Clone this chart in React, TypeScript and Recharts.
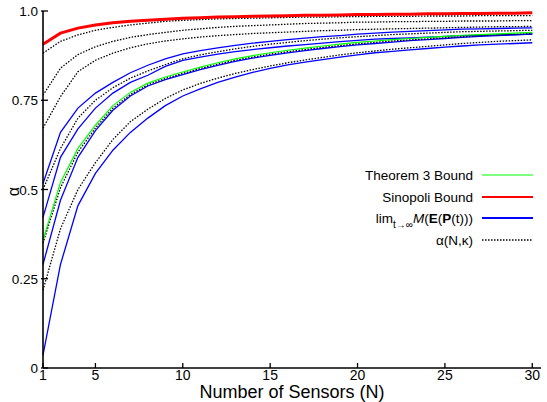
import * as React from 'react';
import { Label, Line, LineChart, XAxis, YAxis } from 'recharts';

// number of sensors, N = 2..30 (the left edge is labelled "1" in the original)
const sensors = [2, 3, 4, 5, 6, 7, 8, 9, 10, 11, 12, 13, 14, 15, 16, 17, 18, 19, 20, 21, 22, 23, 24, 25, 26, 27, 28, 29, 30];

const sinopoli = [0.907, 0.938, 0.952, 0.961, 0.967, 0.971, 0.974, 0.977, 0.98, 0.981, 0.983, 0.984, 0.985, 0.986, 0.987, 0.988, 0.988, 0.989, 0.99, 0.99, 0.991, 0.991, 0.992, 0.992, 0.993, 0.993, 0.994, 0.994, 0.995];

const theorem3 = [0.358, 0.52, 0.615, 0.68, 0.735, 0.772, 0.798, 0.815, 0.829, 0.843, 0.855, 0.866, 0.875, 0.883, 0.89, 0.896, 0.902, 0.907, 0.912, 0.916, 0.92, 0.923, 0.926, 0.929, 0.932, 0.934, 0.936, 0.938, 0.94];

// lim M(E(P(t))) curves
const limE = [0.517, 0.66, 0.728, 0.77, 0.8, 0.827, 0.848, 0.866, 0.88, 0.889, 0.897, 0.904, 0.91, 0.915, 0.92, 0.924, 0.928, 0.931, 0.935, 0.938, 0.941, 0.943, 0.945, 0.947, 0.949, 0.95, 0.951, 0.952, 0.953];
const limF = [0.422, 0.59, 0.67, 0.728, 0.77, 0.8, 0.82, 0.845, 0.862, 0.871, 0.879, 0.886, 0.892, 0.897, 0.902, 0.906, 0.91, 0.914, 0.918, 0.921, 0.923, 0.925, 0.927, 0.929, 0.931, 0.932, 0.933, 0.934, 0.935];
const limG = [0.29, 0.47, 0.59, 0.665, 0.722, 0.762, 0.79, 0.808, 0.822, 0.836, 0.848, 0.859, 0.868, 0.876, 0.883, 0.889, 0.895, 0.9, 0.905, 0.909, 0.913, 0.917, 0.92, 0.923, 0.926, 0.929, 0.931, 0.933, 0.935];
const limH = [0.036, 0.29, 0.455, 0.545, 0.61, 0.66, 0.7, 0.735, 0.762, 0.782, 0.8, 0.815, 0.828, 0.839, 0.849, 0.857, 0.864, 0.871, 0.877, 0.883, 0.887, 0.891, 0.895, 0.899, 0.902, 0.905, 0.907, 0.909, 0.911];

// alpha(N, kappa) curves
const alphaB = [0.882, 0.915, 0.933, 0.946, 0.954, 0.961, 0.966, 0.971, 0.974, 0.976, 0.978, 0.979, 0.98, 0.981, 0.982, 0.983, 0.983, 0.984, 0.984, 0.985, 0.985, 0.985, 0.986, 0.986, 0.986, 0.987, 0.987, 0.987, 0.987];
const alphaC = [0.764, 0.84, 0.878, 0.9, 0.915, 0.926, 0.934, 0.94, 0.946, 0.95, 0.954, 0.957, 0.959, 0.961, 0.963, 0.965, 0.966, 0.967, 0.969, 0.969, 0.97, 0.97, 0.971, 0.971, 0.972, 0.972, 0.972, 0.973, 0.973];
const alphaD = [0.672, 0.76, 0.83, 0.862, 0.882, 0.897, 0.908, 0.916, 0.922, 0.927, 0.931, 0.934, 0.937, 0.939, 0.941, 0.943, 0.945, 0.946, 0.948, 0.949, 0.95, 0.951, 0.952, 0.953, 0.954, 0.955, 0.956, 0.956, 0.957];
const alphaE = [0.5, 0.615, 0.7, 0.75, 0.785, 0.812, 0.832, 0.85, 0.866, 0.877, 0.886, 0.894, 0.901, 0.907, 0.912, 0.917, 0.921, 0.925, 0.928, 0.931, 0.934, 0.936, 0.938, 0.94, 0.942, 0.943, 0.944, 0.945, 0.946];
const alphaG = [0.35, 0.505, 0.605, 0.672, 0.728, 0.766, 0.793, 0.811, 0.825, 0.839, 0.851, 0.862, 0.871, 0.879, 0.886, 0.892, 0.898, 0.903, 0.908, 0.912, 0.916, 0.919, 0.922, 0.925, 0.928, 0.931, 0.933, 0.935, 0.937];
const alphaH = [0.218, 0.39, 0.5, 0.575, 0.64, 0.69, 0.725, 0.755, 0.779, 0.797, 0.812, 0.825, 0.836, 0.846, 0.855, 0.863, 0.87, 0.877, 0.883, 0.888, 0.893, 0.897, 0.901, 0.905, 0.909, 0.912, 0.915, 0.917, 0.919];

const xTicks = [2, 5, 10, 15, 20, 25, 30];
const xTickLabels = ['1', '5', '10', '15', '20', '25', '30'];
const yTicks = [0, 0.25, 0.5, 0.75, 1];
const yTickLabels = ['0', '0.25', '0.5', '0.75', '1.0'];

const legendLabels = ['Theorem 3 Bound', 'Sinopoli Bound', 'lim', 'α(N,κ)'];

const FONT = '"Liberation Sans", Arial, Helvetica, sans-serif';

const limKeys = ['limE', 'limF', 'limG', 'limH'];
const alphaKeys = ['alphaB', 'alphaC', 'alphaD', 'alphaE', 'alphaG', 'alphaH'];

const data = sensors.map((n, i) => ({
  n,
  sinopoli: sinopoli[i],
  theorem3: theorem3[i],
  limE: limE[i],
  limF: limF[i],
  limG: limG[i],
  limH: limH[i],
  alphaB: alphaB[i],
  alphaC: alphaC[i],
  alphaD: alphaD[i],
  alphaE: alphaE[i],
  alphaG: alphaG[i],
  alphaH: alphaH[i],
}));

const XTick = ({ x, y, payload }: any) => {
  const idx = xTicks.indexOf(payload.value);
  return (
    <g>
      <line x1={x} y1={y} x2={x} y2={y - 5} stroke="#000" strokeWidth={1.3} />
      <text x={x} y={y + 12} textAnchor="middle" fontSize={14} fontFamily={FONT} fill="#000">
        {idx >= 0 ? xTickLabels[idx] : payload.value}
      </text>
    </g>
  );
};

const YTick = ({ x, y, payload }: any) => {
  const idx = yTicks.indexOf(payload.value);
  return (
    <g>
      <line x1={x - 2} y1={y} x2={x + 5} y2={y} stroke="#000" strokeWidth={1.3} />
      <text x={x - 5} y={y + 5} textAnchor="end" fontSize={13.5} fontFamily={FONT} fill="#000">
        {idx >= 0 ? yTickLabels[idx] : payload.value}
      </text>
    </g>
  );
};

function LegendBox() {
  const rowY = [175, 197, 218, 240];
  const textEnd = 473;
  return (
    <svg
      width={547}
      height={402}
      style={{ position: 'absolute', left: 0, top: 0, pointerEvents: 'none' }}
      fontFamily={FONT}
    >
      <text x={textEnd} y={rowY[0] + 5} textAnchor="end" fontSize={13.5}>{legendLabels[0]}</text>
      <line x1={482} x2={533} y1={rowY[0]} y2={rowY[0]} stroke="#00ff00" strokeWidth={1.2} />
      <text x={textEnd} y={rowY[1] + 5} textAnchor="end" fontSize={13.5}>{legendLabels[1]}</text>
      <line x1={482} x2={533} y1={rowY[1]} y2={rowY[1]} stroke="#ff0000" strokeWidth={2.2} />
      <text x={textEnd} y={rowY[2] + 5} textAnchor="end" fontSize={13.5}>
        {legendLabels[2]}
        <tspan dy={5} fontSize={10}>t→∞</tspan>
        <tspan dy={-5} fontStyle="italic">M</tspan>
        <tspan>(</tspan>
        <tspan fontWeight="bold">E</tspan>
        <tspan>(</tspan>
        <tspan fontWeight="bold">P</tspan>
        <tspan>(t)))</tspan>
      </text>
      <line x1={482} x2={533} y1={rowY[2]} y2={rowY[2]} stroke="#0000ff" strokeWidth={2} />
      <text x={textEnd} y={rowY[3] + 5} textAnchor="end" fontSize={13.5}>{legendLabels[3]}</text>
      <line x1={482} x2={533} y1={rowY[3]} y2={rowY[3]} stroke="#000" strokeWidth={1.3} strokeDasharray="1.5 1.5" />
    </svg>
  );
}

export default function App() {
  return (
    <div style={{ position: 'absolute', left: 0, top: 0, width: 547, height: 402, background: '#fff' }}>
      <LineChart width={547} height={402} data={data} margin={{ top: 11, right: 6, left: 0, bottom: 0 }}>
        <XAxis
          dataKey="n"
          type="number"
          domain={[2, 30.5]}
          ticks={xTicks}
          interval={0}
          height={34}
          tickSize={0}
          tickMargin={0}
          tick={XTick}
          axisLine={{ stroke: '#000', strokeWidth: 1.6 }}
          tickLine={false}
        >
          <Label
            content={({ viewBox }: any) => (
              <text
                x={viewBox.x + viewBox.width / 2}
                y={viewBox.y + 30}
                textAnchor="middle"
                fontSize={18}
                fontFamily={FONT}
                fill="#000"
              >
                Number of Sensors (N)
              </text>
            )}
          />
        </XAxis>
        <YAxis
          type="number"
          domain={[0, 1]}
          ticks={yTicks}
          interval={0}
          width={43}
          tickSize={0}
          tickMargin={0}
          tick={YTick}
          axisLine={{ stroke: '#000', strokeWidth: 1.6 }}
          tickLine={false}
        >
          <Label
            content={({ viewBox }: any) => {
              const cx = viewBox.x + 13;
              const cy = viewBox.y + viewBox.height / 2 + 2;
              return (
                <text
                  x={cx}
                  y={cy}
                  textAnchor="middle"
                  dominantBaseline="central"
                  fontSize={16}
                  fontFamily={FONT}
                  fill="#000"
                  transform={`rotate(-90, ${cx}, ${cy})`}
                >
                  α
                </text>
              );
            }}
          />
        </YAxis>
        {limKeys.map(k => (
          <Line key={k} type="linear" dataKey={k} stroke="#0000ff" strokeWidth={1.3} dot={false} activeDot={false} isAnimationActive={false} />
        ))}
        {alphaKeys.map(k => (
          <Line key={k} type="linear" dataKey={k} stroke="#000" strokeWidth={1.3} strokeDasharray="1.5 1.5" dot={false} activeDot={false} isAnimationActive={false} />
        ))}
        <Line type="linear" dataKey="theorem3" stroke="#00ff00" strokeWidth={1.2} dot={false} activeDot={false} isAnimationActive={false} />
        <Line type="linear" dataKey="sinopoli" stroke="#ff0000" strokeWidth={3} dot={false} activeDot={false} isAnimationActive={false} />
      </LineChart>
      <LegendBox />
    </div>
  );
}
